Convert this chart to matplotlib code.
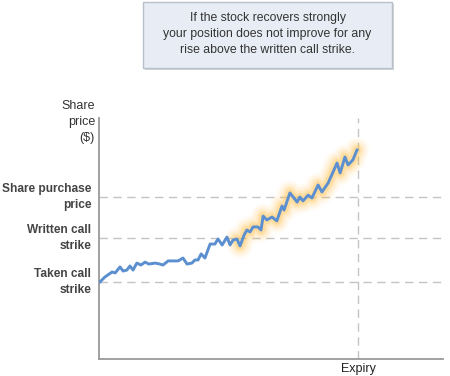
import matplotlib
matplotlib.use("Agg")
import matplotlib.pyplot as plt
from matplotlib.patches import FancyBboxPatch

plt.rcParams['font.family'] = ['Liberation Sans', 'DejaVu Sans']

# time (weeks) and share price
t = [0.3, 1.7, 3.8, 4.7, 6.1, 7.0, 8.1, 9.0, 9.9, 11.0, 12.2, 13.4, 14.5, 16.3,
     17.7, 18.6, 20.1, 21.5, 23.0, 24.4, 25.6, 27.0, 27.9, 28.8, 29.7, 30.8,
     32.3, 33.7, 34.6, 35.8, 37.2, 38.1, 39.0, 40.1, 41.0, 42.2, 43.0, 43.9,
     44.8, 46.2, 47.1, 47.7, 48.8, 50.3, 51.7, 53.2, 53.8, 55.5, 57.6, 58.4,
     59.3, 60.8, 61.9, 63.7, 64.8, 66.6, 69.2, 70.1, 71.5, 72.4, 73.8, 75.0]
price = [32.0, 34.0, 36.1, 35.7, 38.2, 36.5, 36.9, 38.6, 36.9, 39.8, 39.0, 40.2,
         39.4, 39.8, 39.4, 39.0, 40.7, 40.7, 40.7, 41.9, 39.4, 39.8, 41.1, 41.1,
         43.6, 41.9, 47.7, 47.7, 49.8, 47.3, 50.6, 47.3, 49.4, 49.8, 46.9, 51.5,
         53.5, 52.7, 54.8, 54.8, 53.5, 59.3, 57.7, 58.9, 57.3, 63.5, 61.8, 68.9,
         65.1, 67.2, 65.6, 68.0, 66.8, 72.2, 69.3, 73.0, 81.3, 77.2, 83.8, 80.5,
         82.6, 86.7]

levels = [67.2, 50.2, 32.0]
level_labels = ["Share purchase\nprice", "Written call\nstrike", "Taken call\nstrike"]
expiry = 75.3
glow_start = 33  # index where the highlighted part begins

fig = plt.figure(figsize=(4.5, 3.76), dpi=100)
ax = fig.add_axes([0.22, 0.0452, 0.7644, 0.641])
ax.set_xlim(0, 100)
ax.set_ylim(0, 100)

for lv in levels:
    ax.axhline(lv, color='#c4c4c4', lw=1, dashes=(6, 4), zorder=1)
ax.axvline(expiry, color='#c4c4c4', lw=1, dashes=(6, 4), zorder=1)

# orange glow around the rising part
gt, gp = t[glow_start:], price[glow_start:]
for w, a in [(18, 0.05), (15, 0.07), (12, 0.1), (9, 0.15), (6, 0.25)]:
    ax.plot(gt, gp, color='#ffbf40', lw=w, alpha=a, solid_capstyle='round',
            solid_joinstyle='round', zorder=2)

ax.plot(t, price, color='#5b8fd0', lw=2.1, solid_joinstyle='round', zorder=3)

for s in ['top', 'right']:
    ax.spines[s].set_visible(False)
for s in ['left', 'bottom']:
    ax.spines[s].set_color('#9a9a9a')
    ax.spines[s].set_linewidth(1.3)
ax.set_xticks([])
ax.set_yticks([])

for lv, lab in zip(levels, level_labels):
    ax.annotate(lab, xy=(0, lv), xycoords=('axes fraction', 'data'),
                xytext=(-5.5, 0), textcoords='offset points', ha='right',
                va='center', fontsize=8.6, fontweight='bold', color='#444444',
                linespacing=1.5)

fig.text(95 / 450, 1 - 100 / 376, "Share\nprice\n($)", ha='right', va='top',
         fontsize=9, color='#333333', linespacing=1.45)
ax.annotate("Expiry", xy=(expiry, 0), xycoords='data', xytext=(0, -3),
            textcoords='offset points', ha='center', va='top', fontsize=9,
            color='#222222')

# info box with shadow
bx, by, bw, bh = 143 / 450, 1 - 68 / 376, 249 / 450, 66 / 376
shadow = FancyBboxPatch((bx + 0.004, by - 0.006), bw, bh, boxstyle='square,pad=0',
                        transform=fig.transFigure, fc='#d4d4d4', ec='none', zorder=0)
box = FancyBboxPatch((bx, by), bw, bh, boxstyle='square,pad=0',
                     transform=fig.transFigure, fc='#e8edf5', ec='#b8c0cc', lw=1, zorder=1)
fig.patches.extend([shadow, box])
fig.text(bx + bw / 2, by + bh / 2 + 0.003, "If the stock recovers strongly\n"
         "your position does not improve for any\nrise above the written call strike.",
         ha='center', va='center', fontsize=8.8, color='#333333', linespacing=1.45,
         zorder=2)

fig.savefig("out.png", dpi=100)
